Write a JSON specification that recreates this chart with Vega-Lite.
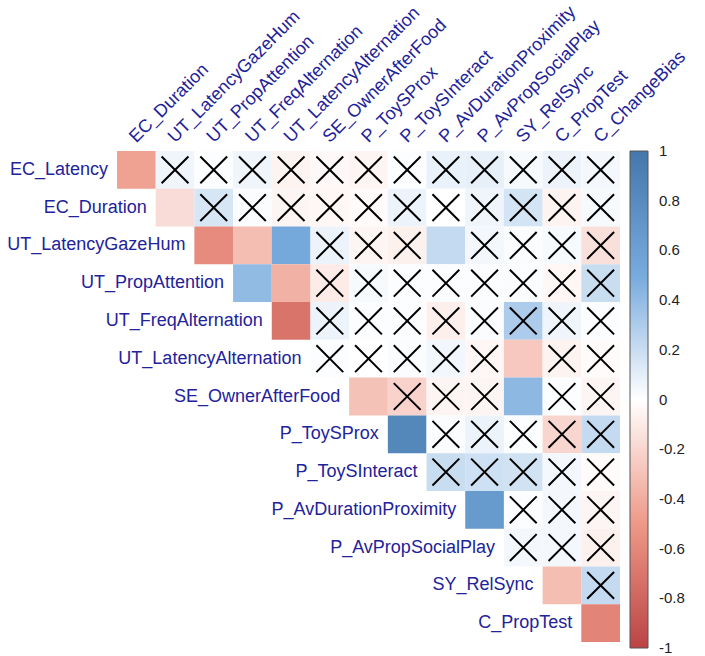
{
  "$schema": "https://vega.github.io/schema/vega-lite/v6.json",
  "width": 503,
  "height": 491,
  "autosize": "none",
  "padding": {"left": 117, "top": 151, "right": 85, "bottom": 14},
  "background": "white",
  "config": {"view": {"stroke": null}, "font": "Liberation Sans"},
  "datasets": {
    "corr": [
      {"row": "EC_Latency", "col": "EC_Duration", "r": -0.46, "sig": "yes"},
      {"row": "EC_Latency", "col": "UT_LatencyGazeHum", "r": 0.06, "sig": "no"},
      {"row": "EC_Latency", "col": "UT_PropAttention", "r": 0.01, "sig": "no"},
      {"row": "EC_Latency", "col": "UT_FreqAlternation", "r": 0.06, "sig": "no"},
      {"row": "EC_Latency", "col": "UT_LatencyAlternation", "r": -0.06, "sig": "no"},
      {"row": "EC_Latency", "col": "SE_OwnerAfterFood", "r": -0.03, "sig": "no"},
      {"row": "EC_Latency", "col": "P_ToySProx", "r": -0.05, "sig": "no"},
      {"row": "EC_Latency", "col": "P_ToySInteract", "r": 0.01, "sig": "no"},
      {"row": "EC_Latency", "col": "P_AvDurationProximity", "r": 0.08, "sig": "no"},
      {"row": "EC_Latency", "col": "P_AvPropSocialPlay", "r": 0.09, "sig": "no"},
      {"row": "EC_Latency", "col": "SY_RelSync", "r": 0.03, "sig": "no"},
      {"row": "EC_Latency", "col": "C_PropTest", "r": 0.07, "sig": "no"},
      {"row": "EC_Latency", "col": "C_ChangeBias", "r": 0.04, "sig": "no"},

      {"row": "EC_Duration", "col": "UT_LatencyGazeHum", "r": -0.17, "sig": "yes"},
      {"row": "EC_Duration", "col": "UT_PropAttention", "r": 0.15, "sig": "no"},
      {"row": "EC_Duration", "col": "UT_FreqAlternation", "r": 0.02, "sig": "no"},
      {"row": "EC_Duration", "col": "UT_LatencyAlternation", "r": -0.05, "sig": "no"},
      {"row": "EC_Duration", "col": "SE_OwnerAfterFood", "r": -0.04, "sig": "no"},
      {"row": "EC_Duration", "col": "P_ToySProx", "r": -0.02, "sig": "no"},
      {"row": "EC_Duration", "col": "P_ToySInteract", "r": 0.07, "sig": "no"},
      {"row": "EC_Duration", "col": "P_AvDurationProximity", "r": 0.0, "sig": "no"},
      {"row": "EC_Duration", "col": "P_AvPropSocialPlay", "r": 0.06, "sig": "no"},
      {"row": "EC_Duration", "col": "SY_RelSync", "r": 0.16, "sig": "no"},
      {"row": "EC_Duration", "col": "C_PropTest", "r": -0.06, "sig": "no"},
      {"row": "EC_Duration", "col": "C_ChangeBias", "r": 0.03, "sig": "no"},

      {"row": "UT_LatencyGazeHum", "col": "UT_PropAttention", "r": -0.58, "sig": "yes"},
      {"row": "UT_LatencyGazeHum", "col": "UT_FreqAlternation", "r": -0.32, "sig": "yes"},
      {"row": "UT_LatencyGazeHum", "col": "UT_LatencyAlternation", "r": 0.52, "sig": "yes"},
      {"row": "UT_LatencyGazeHum", "col": "SE_OwnerAfterFood", "r": 0.07, "sig": "no"},
      {"row": "UT_LatencyGazeHum", "col": "P_ToySProx", "r": -0.05, "sig": "no"},
      {"row": "UT_LatencyGazeHum", "col": "P_ToySInteract", "r": -0.07, "sig": "no"},
      {"row": "UT_LatencyGazeHum", "col": "P_AvDurationProximity", "r": 0.22, "sig": "yes"},
      {"row": "UT_LatencyGazeHum", "col": "P_AvPropSocialPlay", "r": 0.04, "sig": "no"},
      {"row": "UT_LatencyGazeHum", "col": "SY_RelSync", "r": 0.02, "sig": "no"},
      {"row": "UT_LatencyGazeHum", "col": "C_PropTest", "r": 0.03, "sig": "no"},
      {"row": "UT_LatencyGazeHum", "col": "C_ChangeBias", "r": -0.15, "sig": "no"},

      {"row": "UT_PropAttention", "col": "UT_FreqAlternation", "r": 0.4, "sig": "yes"},
      {"row": "UT_PropAttention", "col": "UT_LatencyAlternation", "r": -0.38, "sig": "yes"},
      {"row": "UT_PropAttention", "col": "SE_OwnerAfterFood", "r": -0.1, "sig": "no"},
      {"row": "UT_PropAttention", "col": "P_ToySProx", "r": 0.03, "sig": "no"},
      {"row": "UT_PropAttention", "col": "P_ToySInteract", "r": 0.01, "sig": "no"},
      {"row": "UT_PropAttention", "col": "P_AvDurationProximity", "r": 0.01, "sig": "no"},
      {"row": "UT_PropAttention", "col": "P_AvPropSocialPlay", "r": 0.01, "sig": "no"},
      {"row": "UT_PropAttention", "col": "SY_RelSync", "r": 0.02, "sig": "no"},
      {"row": "UT_PropAttention", "col": "C_PropTest", "r": -0.04, "sig": "no"},
      {"row": "UT_PropAttention", "col": "C_ChangeBias", "r": 0.2, "sig": "no"},

      {"row": "UT_FreqAlternation", "col": "UT_LatencyAlternation", "r": -0.72, "sig": "yes"},
      {"row": "UT_FreqAlternation", "col": "SE_OwnerAfterFood", "r": 0.07, "sig": "no"},
      {"row": "UT_FreqAlternation", "col": "P_ToySProx", "r": 0.01, "sig": "no"},
      {"row": "UT_FreqAlternation", "col": "P_ToySInteract", "r": 0.01, "sig": "no"},
      {"row": "UT_FreqAlternation", "col": "P_AvDurationProximity", "r": -0.08, "sig": "no"},
      {"row": "UT_FreqAlternation", "col": "P_AvPropSocialPlay", "r": 0.02, "sig": "no"},
      {"row": "UT_FreqAlternation", "col": "SY_RelSync", "r": 0.3, "sig": "no"},
      {"row": "UT_FreqAlternation", "col": "C_PropTest", "r": 0.06, "sig": "no"},
      {"row": "UT_FreqAlternation", "col": "C_ChangeBias", "r": 0.01, "sig": "no"},

      {"row": "UT_LatencyAlternation", "col": "SE_OwnerAfterFood", "r": 0.01, "sig": "no"},
      {"row": "UT_LatencyAlternation", "col": "P_ToySProx", "r": 0.0, "sig": "no"},
      {"row": "UT_LatencyAlternation", "col": "P_ToySInteract", "r": 0.02, "sig": "no"},
      {"row": "UT_LatencyAlternation", "col": "P_AvDurationProximity", "r": 0.05, "sig": "no"},
      {"row": "UT_LatencyAlternation", "col": "P_AvPropSocialPlay", "r": -0.04, "sig": "no"},
      {"row": "UT_LatencyAlternation", "col": "SY_RelSync", "r": -0.27, "sig": "yes"},
      {"row": "UT_LatencyAlternation", "col": "C_PropTest", "r": -0.06, "sig": "no"},
      {"row": "UT_LatencyAlternation", "col": "C_ChangeBias", "r": -0.02, "sig": "no"},

      {"row": "SE_OwnerAfterFood", "col": "P_ToySProx", "r": -0.3, "sig": "yes"},
      {"row": "SE_OwnerAfterFood", "col": "P_ToySInteract", "r": -0.22, "sig": "no"},
      {"row": "SE_OwnerAfterFood", "col": "P_AvDurationProximity", "r": -0.05, "sig": "no"},
      {"row": "SE_OwnerAfterFood", "col": "P_AvPropSocialPlay", "r": -0.05, "sig": "no"},
      {"row": "SE_OwnerAfterFood", "col": "SY_RelSync", "r": 0.42, "sig": "yes"},
      {"row": "SE_OwnerAfterFood", "col": "C_PropTest", "r": 0.01, "sig": "no"},
      {"row": "SE_OwnerAfterFood", "col": "C_ChangeBias", "r": -0.05, "sig": "no"},

      {"row": "P_ToySProx", "col": "P_ToySInteract", "r": 0.84, "sig": "yes"},
      {"row": "P_ToySProx", "col": "P_AvDurationProximity", "r": 0.02, "sig": "no"},
      {"row": "P_ToySProx", "col": "P_AvPropSocialPlay", "r": 0.07, "sig": "no"},
      {"row": "P_ToySProx", "col": "SY_RelSync", "r": 0.01, "sig": "no"},
      {"row": "P_ToySProx", "col": "C_PropTest", "r": -0.2, "sig": "no"},
      {"row": "P_ToySProx", "col": "C_ChangeBias", "r": 0.22, "sig": "no"},

      {"row": "P_ToySInteract", "col": "P_AvDurationProximity", "r": 0.2, "sig": "no"},
      {"row": "P_ToySInteract", "col": "P_AvPropSocialPlay", "r": 0.18, "sig": "no"},
      {"row": "P_ToySInteract", "col": "SY_RelSync", "r": 0.17, "sig": "no"},
      {"row": "P_ToySInteract", "col": "C_PropTest", "r": 0.04, "sig": "no"},
      {"row": "P_ToySInteract", "col": "C_ChangeBias", "r": -0.02, "sig": "no"},

      {"row": "P_AvDurationProximity", "col": "P_AvPropSocialPlay", "r": 0.66, "sig": "yes"},
      {"row": "P_AvDurationProximity", "col": "SY_RelSync", "r": 0.01, "sig": "no"},
      {"row": "P_AvDurationProximity", "col": "C_PropTest", "r": 0.04, "sig": "no"},
      {"row": "P_AvDurationProximity", "col": "C_ChangeBias", "r": -0.05, "sig": "no"},

      {"row": "P_AvPropSocialPlay", "col": "SY_RelSync", "r": 0.04, "sig": "no"},
      {"row": "P_AvPropSocialPlay", "col": "C_PropTest", "r": 0.04, "sig": "no"},
      {"row": "P_AvPropSocialPlay", "col": "C_ChangeBias", "r": -0.07, "sig": "no"},

      {"row": "SY_RelSync", "col": "C_PropTest", "r": -0.32, "sig": "yes"},
      {"row": "SY_RelSync", "col": "C_ChangeBias", "r": 0.22, "sig": "no"},

      {"row": "C_PropTest", "col": "C_ChangeBias", "r": -0.62, "sig": "yes"}
    ],
    "rowLabels": [
      {"row": "EC_Latency", "col": "EC_Duration"},
      {"row": "EC_Duration", "col": "UT_LatencyGazeHum"},
      {"row": "UT_LatencyGazeHum", "col": "UT_PropAttention"},
      {"row": "UT_PropAttention", "col": "UT_FreqAlternation"},
      {"row": "UT_FreqAlternation", "col": "UT_LatencyAlternation"},
      {"row": "UT_LatencyAlternation", "col": "SE_OwnerAfterFood"},
      {"row": "SE_OwnerAfterFood", "col": "P_ToySProx"},
      {"row": "P_ToySProx", "col": "P_ToySInteract"},
      {"row": "P_ToySInteract", "col": "P_AvDurationProximity"},
      {"row": "P_AvDurationProximity", "col": "P_AvPropSocialPlay"},
      {"row": "P_AvPropSocialPlay", "col": "SY_RelSync"},
      {"row": "SY_RelSync", "col": "C_PropTest"},
      {"row": "C_PropTest", "col": "C_ChangeBias"}
    ]
  },
  "resolve": {"scale": {"x": "shared", "y": "shared"}},
  "layer": [
    {
      "data": {"name": "corr"},
      "mark": {"type": "rect", "strokeWidth": 0},
      "encoding": {
        "x": {
          "field": "col", "type": "nominal",
          "scale": {
            "domain": ["EC_Duration", "UT_LatencyGazeHum", "UT_PropAttention", "UT_FreqAlternation", "UT_LatencyAlternation", "SE_OwnerAfterFood", "P_ToySProx", "P_ToySInteract", "P_AvDurationProximity", "P_AvPropSocialPlay", "SY_RelSync", "C_PropTest", "C_ChangeBias"],
            "paddingInner": 0, "paddingOuter": 0
          },
          "axis": {
            "orient": "top", "title": null, "domain": false, "ticks": false, "tickSize": 0,
            "labelAngle": -45, "labelAlign": "left", "labelBaseline": "alphabetic",
            "labelPadding": 8, "labelFontSize": 18, "labelColor": "#22229a",
            "labelFont": "Liberation Sans", "labelLimit": 400, "labelOverlap": false, "labelFlush": false
          }
        },
        "y": {
          "field": "row", "type": "nominal",
          "scale": {
            "domain": ["EC_Latency", "EC_Duration", "UT_LatencyGazeHum", "UT_PropAttention", "UT_FreqAlternation", "UT_LatencyAlternation", "SE_OwnerAfterFood", "P_ToySProx", "P_ToySInteract", "P_AvDurationProximity", "P_AvPropSocialPlay", "SY_RelSync", "C_PropTest"],
            "paddingInner": 0, "paddingOuter": 0
          },
          "axis": null
        },
        "color": {
          "field": "r", "type": "quantitative",
          "scale": {
            "type": "linear",
            "interpolate": "rgb",
            "domain": [-1, -0.5, 0, 0.5, 1],
            "range": ["#BB4444", "#EE9988", "#FFFFFF", "#77AADD", "#4477AA"]
          },
          "legend": {
            "title": null, "orient": "right", "offset": 10, "padding": 0,
            "gradientLength": 497, "gradientThickness": 18,
            "gradientStrokeColor": "#555555", "gradientStrokeWidth": 1,
            "values": [1, 0.8, 0.6, 0.4, 0.2, 0, -0.2, -0.4, -0.6, -0.8, -1],
            "labelExpr": "toString(datum.value)",
            "labelFontSize": 15, "labelColor": "#222222", "labelOffset": 11,
            "labelBaseline": "middle", "labelFont": "Liberation Sans", "labelOverlap": false,
            "encode": {"labels": {"update": {"baseline": {"value": "middle"}}}}
          }
        }
      }
    },
    {
      "data": {"name": "corr"},
      "transform": [{"filter": "datum.sig === 'no'"}],
      "mark": {
        "type": "point",
        "shape": "M-1,-1L1,1M-1,1L1,-1",
        "filled": false, "stroke": "black", "strokeWidth": 2,
        "opacity": 1, "size": 720
      },
      "encoding": {
        "x": {"field": "col", "type": "nominal"},
        "y": {"field": "row", "type": "nominal"}
      }
    },
    {
      "data": {"name": "rowLabels"},
      "mark": {
        "type": "text", "align": "right", "baseline": "middle", "dx": -9,
        "fontSize": 18, "font": "Liberation Sans", "color": "#22229a"
      },
      "encoding": {
        "x": {"field": "col", "type": "nominal", "bandPosition": 0},
        "y": {"field": "row", "type": "nominal"},
        "text": {"field": "row"}
      }
    }
  ]
}
